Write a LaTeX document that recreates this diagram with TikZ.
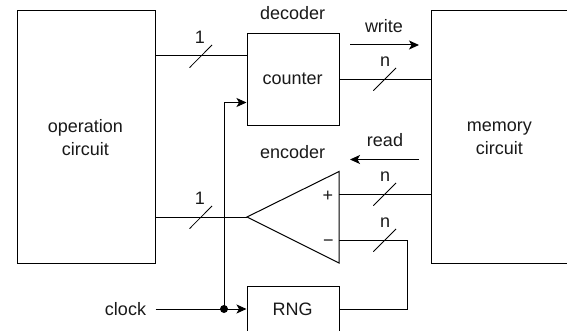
\documentclass[tikz,border=0pt]{standalone}
\usepackage{fontspec}
\setmainfont{Liberation Sans}
\usetikzlibrary{arrows.meta}
\tikzset{
  wire/.style={draw=black,line width=1pt},
  arr/.style={wire,-{Stealth[length=10pt,width=9pt,inset=2.5pt]}},
  blockbox/.style={draw=black,line width=1pt,inner sep=0pt,align=center},
  slash/.style={draw=black,line width=0.8pt},
  lab/.style={font=\fontsize{18}{23}\selectfont,inner sep=0pt,text=black!90,align=center},
  one/.style={lab,anchor=base}
}
\begin{document}
\begin{tikzpicture}[x=1pt,y=-1pt]
\useasboundingbox (0,0) rectangle (567,331);
\node[blockbox,minimum width=138pt,minimum height=253pt] (op) at (86,136.8) {};
\node[lab] at (85.3,137.2) {operation\\circuit};
\node[blockbox,minimum width=142pt,minimum height=253pt] (mem) at (502,136.8) {};
\node[lab] at (499.3,138.2) {memory\\circuit};
\node[blockbox,minimum width=92pt,minimum height=92pt] (cnt) at (293,79.3) {};
\node[one] at (292.7,85) {counter};
\node[blockbox,minimum width=92pt,minimum height=50pt] (rng) at (293,311) {};
\node[one] at (292.7,315) {RNG};
\node[one] (dec) at (292.7,20) {decoder};
\node[one] (enc) at (292.7,159) {encoder};
\node[one] (clk) at (125.5,315) {clock};
% encoder triangle
\coordinate (apex) at (247,217);
\coordinate (tt) at (339,171.5);
\coordinate (tb) at (339,263);
\draw[wire,line join=miter] (apex) -- (tt) -- (tb) -- cycle;
\node[lab] (plus) at (328,196) {+};
\node[lab] (minus) at (328.3,243) {\textminus};
% wires
\coordinate (w1a) at (op.east|-0,56);
\coordinate (w1b) at (cnt.west|-w1a);
\draw[wire] (w1a) -- (w1b);
\draw[wire] (cnt.east) -- (mem.west|-cnt.east);
\coordinate (e1) at (op.east|-apex);
\draw[wire] (e1) -- (apex);
\coordinate (ep) at (339,194);
\draw[wire] (ep) -- (mem.west|-ep);
\coordinate (em) at (339,240);
\coordinate (corner) at (407.5,240);
\coordinate (corner2) at (407.5,309);
\coordinate (rngout) at (rng.east|-corner2);
\draw[wire] (em) -- (corner) -- (corner2) -- (rngout);
\coordinate (cs) at (op.east|-corner2);
\coordinate (dot) at (224,309);
\coordinate (up) at (224,102.5);
\coordinate (rngin) at (rng.west|-corner2);
\draw[arr] (cs) -- (rngin);
\draw[arr] (dot) -- (up) -- (cnt.west|-up);
\fill (dot) circle (4pt);
% slashes
\draw[slash] (189.5,67.7) -- (212,45);
\draw[slash] (373.3,90.7) -- (396,68);
\draw[slash] (189.5,228.7) -- (212,206);
\draw[slash] (373.3,205.7) -- (396,183);
\draw[slash] (373.3,251.7) -- (396,229);
\node[one] at (200,44) {1};
\node[one] at (385,66.7) {n};
\node[one] at (200,204.3) {1};
\node[one] at (385,182) {n};
\node[one] at (385,227.7) {n};
% direction arrows
\coordinate (wa) at (350,45);
\coordinate (wb) at (419,45);
\draw[arr] (wa) -- (wb);
\node[one] at (384,32.7) {write};
\coordinate (ra) at (419,159.5);
\coordinate (rb) at (350,159.5);
\draw[arr] (ra) -- (rb);
\node[one] at (385,147) {read};
\end{tikzpicture}
\end{document}
